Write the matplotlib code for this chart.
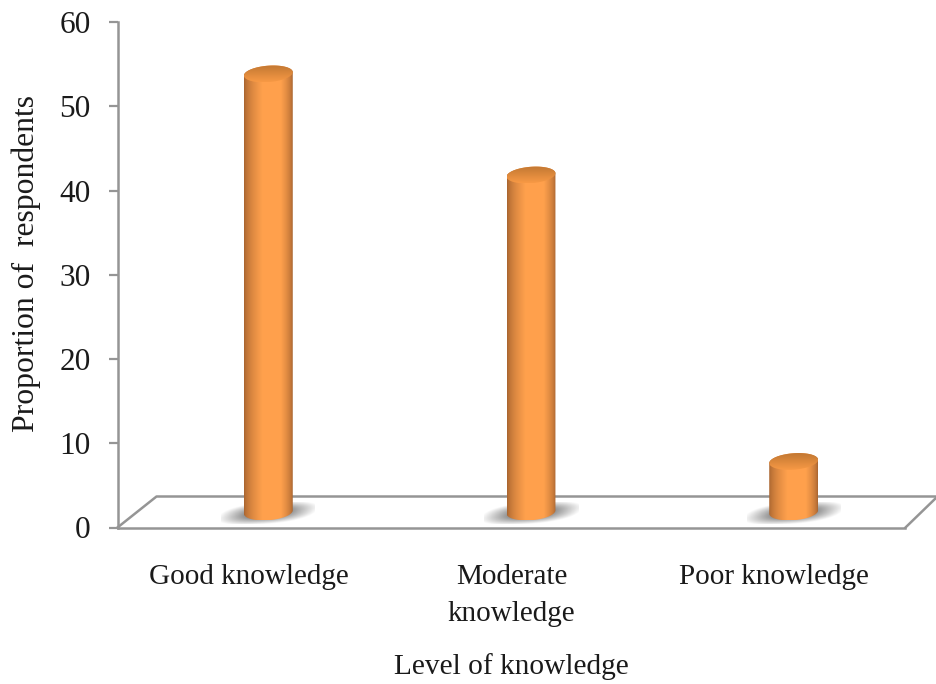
import numpy as np
import matplotlib
matplotlib.use("Agg")
import matplotlib.pyplot as plt
from matplotlib.patches import PathPatch
from matplotlib.path import Path

# values per knowledge level
levels = ["Good knowledge", "Moderate\nknowledge", "Poor knowledge"]
proportions = [52, 40, 6]
y_ticks = [0, 10, 20, 30, 40, 50, 60]

W, H = 937, 684
GREY = "#959595"
plt.rcParams["font.family"] = "Liberation Serif"

fig = plt.figure(figsize=(W / 100, H / 100), dpi=100)
ax = fig.add_axes([117.5 / W, 1 - 527.5 / H, 788 / W, 505.5 / H])
ax.set_xlim(0, 3)
ax.set_ylim(0, 60)

# pixels per data unit, used to lay out the fake 3d shapes
sx = 788 / 3
sy = 505.5 / 60
depth_x = 39 / sx
depth_y = 31 / sy


def ellipse(cx, cy, a, b, tilt, t):
    # tilted ellipse given in pixels around a centre in data units
    th = np.radians(tilt)
    px = a * np.cos(t) * np.cos(th) - b * np.sin(t) * np.sin(th)
    py = a * np.cos(t) * np.sin(th) + b * np.sin(t) * np.cos(th)
    return cx + px / sx, cy + py / sy


def shaded_image(shape_xy, rgb, zorder=3):
    # draw a colour array clipped to a polygon
    xs, ys = shape_xy
    im = ax.imshow(rgb, extent=[xs.min(), xs.max(), ys.min(), ys.max()],
                   origin="lower", aspect="auto", zorder=zorder, interpolation="bilinear")
    patch = PathPatch(Path(np.column_stack([xs, ys])), transform=ax.transData,
                      fc="none", ec="none")
    im.set_clip_path(patch)
    return im


# floor of the chart
ax.plot([0, depth_x, 3 + depth_x * 0.82], [0, depth_y, depth_y], color=GREY, lw=1.8,
        clip_on=False, zorder=1)
ax.plot([3, 3 + depth_x * 0.82], [0, depth_y], color=GREY, lw=1.8, clip_on=False, zorder=1)

dark = np.array([0.64, 0.38, 0.18])
light = np.array([1.0, 0.63, 0.30])
cap_back = np.array([0.76, 0.47, 0.20])
cap_front = np.array([0.97, 0.60, 0.27])
a, b = 24.5, 8.2
tilt = 4.5
t = np.linspace(0, 2 * np.pi, 120)

for i, value in enumerate(proportions):
    cx = i + 0.5 + depth_x / 2
    base = depth_y / 2
    top = value + base

    # blurred shadow on the floor, sheared like a parallelogram
    n = 120
    gx, gy = np.meshgrid(np.linspace(-1, 1, n), np.linspace(-1, 1, n))
    ux = gx - gy * 0.2
    uy = gy - gx * 0.22
    r = (np.abs(ux) ** 2.4 + np.abs(uy) ** 2.4) ** (1 / 2.4)
    shadow_alpha = np.clip((1.0 - r) / 0.55, 0, 1) * 0.75
    sh_rgb = np.full((n, n, 3), 0.42)
    ax.imshow(np.dstack([sh_rgb, shadow_alpha]),
              extent=[cx - 47 / sx, cx + 47 / sx, base - 12 / sy, base + 10 / sy],
              origin="lower", aspect="auto", zorder=2, interpolation="bilinear")

    # cylinder side with a horizontal gradient
    low_x, low_y = ellipse(cx, base, a, b, tilt, np.linspace(np.pi, 2 * np.pi, 60))
    up_x, up_y = ellipse(cx, top, a, b, tilt, np.linspace(0, np.pi, 60))
    u = np.linspace(0, 1, 200)
    f = np.clip(np.minimum(u / 0.38, (1 - u) / 0.25), 0, 1) ** 0.6
    side = dark[None, :] * (1 - f[:, None]) + light[None, :] * f[:, None]
    shaded_image((np.r_[low_x, up_x], np.r_[low_y, up_y]), np.repeat(side[None, :, :], 2, axis=0))

    # cylinder cap, darker at the back and lighter at its front edge
    v = np.linspace(0, 1, 60)[:, None]
    cap = cap_front * (1 - v) + cap_back * v
    shaded_image(ellipse(cx, top, a, b, tilt, t), np.repeat(cap[:, None, :], 2, axis=1), zorder=4)

# axes styling
for side_name in ["top", "right"]:
    ax.spines[side_name].set_visible(False)
for side_name in ["left", "bottom"]:
    ax.spines[side_name].set_color(GREY)
    ax.spines[side_name].set_linewidth(1.8)
ax.patch.set_alpha(0)

ax.set_xlim(0, 3)
ax.set_ylim(0, 60)
ax.set_yticks(y_ticks)
ax.tick_params(axis="y", length=6.5, width=1.6, color=GREY, labelsize=22.5, pad=13)
ax.set_xticks([0.5, 1.5, 2.5])
ax.set_xticklabels(levels, fontsize=21, linespacing=1.55)
ax.tick_params(axis="x", length=0, pad=26)
for lab in ax.get_xticklabels() + ax.get_yticklabels():
    lab.set_color("#1a1a1a")

fig.text(26 / W, 1 - 264 / H, "Proportion of  respondents", rotation=90, fontsize=22.8,
         ha="center", va="center", color="#1a1a1a")
fig.text(511 / W, 1 - 667 / H, "Level of knowledge", fontsize=21.2,
         ha="center", va="center", color="#1a1a1a")

fig.savefig("out.png", dpi=100, facecolor="white")
